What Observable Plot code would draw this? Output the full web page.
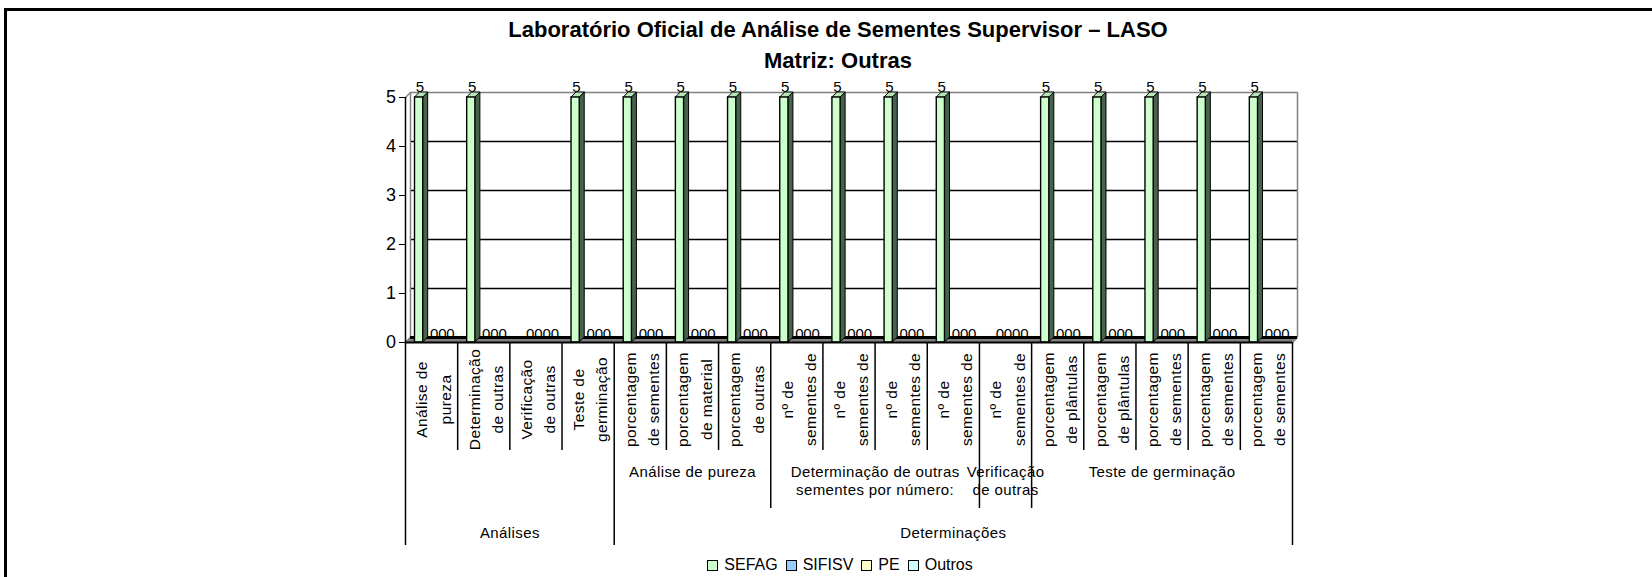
<!DOCTYPE html>
<html>
<head>
<meta charset="utf-8">
<script src="https://cdn.jsdelivr.net/npm/d3@7"></script>
<script src="https://cdn.jsdelivr.net/npm/@observablehq/plot@0.6"></script>
<style>
  body { margin: 0; background: #fff; font-family: "Liberation Sans", Arial, sans-serif; }
  #wrap { position: relative; width: 1652px; height: 577px; overflow: hidden; background: #fff; }
  #frame { position: absolute; left: 4px; top: 8px; width: 2000px; height: 1000px;
           border-left: 3px solid #000; border-top: 3px solid #000; pointer-events: none; }
  #chart { position: absolute; left: 0; top: 0; }
  .title { position: absolute; left: 338px; width: 1000px; text-align: center; font-weight: bold;
           font-size: 22px; line-height: 26px; color: #000; white-space: nowrap; }
  #legend { position: absolute; left: 540px; width: 600px; top: 556px; display: flex; justify-content: center;
            align-items: center; font-size: 16px; line-height: 18px; }
  #legend .item { display: flex; align-items: center; margin: 0 4px; }
  #legend .sw { width: 9px; height: 9px; border: 1px solid #000; margin-right: 6px; }
  svg text { letter-spacing: 0.4px; }
</style>
</head>
<body>
<div id="wrap">
  <div class="title" style="top:17px">Laboratório Oficial de Análise de Sementes Supervisor – LASO</div>
  <div class="title" style="top:48px">Matriz: Outras</div>
  <div id="chart"></div>
  <div id="legend"></div>
  <div id="frame"></div>
</div>
<script>
// ---------------- data ----------------
const categoryLabels = [
  "Análise de\npureza", "Determinação\nde outras", "Verificação\nde outras", "Teste de\ngerminação",
  "porcentagem\nde sementes", "porcentagem\nde material", "porcentagem\nde outras",
  "nº de\nsementes de", "nº de\nsementes de", "nº de\nsementes de", "nº de\nsementes de",
  "nº de\nsementes de",
  "porcentagem\nde plântulas", "porcentagem\nde plântulas",
  "porcentagem\nde sementes", "porcentagem\nde sementes", "porcentagem\nde sementes"
];
const level2Labels = [
  "", "", "", "",
  "Análise de pureza", "Análise de pureza", "Análise de pureza",
  "Determinação de outras\nsementes por número:", "Determinação de outras\nsementes por número:",
  "Determinação de outras\nsementes por número:", "Determinação de outras\nsementes por número:",
  "Verificação\nde outras",
  "Teste de germinação", "Teste de germinação", "Teste de germinação", "Teste de germinação", "Teste de germinação"
];
const level3Labels = [
  "Análises", "Análises", "Análises", "Análises",
  "Determinações", "Determinações", "Determinações", "Determinações", "Determinações", "Determinações",
  "Determinações", "Determinações", "Determinações", "Determinações", "Determinações", "Determinações", "Determinações"
];
const seriesNames = ["SEFAG", "SIFISV", "PE", "Outros"];
const sefag  = [5, 5, 0, 5, 5, 5, 5, 5, 5, 5, 5, 0, 5, 5, 5, 5, 5];
const sifisv = [0, 0, 0, 0, 0, 0, 0, 0, 0, 0, 0, 0, 0, 0, 0, 0, 0];
const pe     = [0, 0, 0, 0, 0, 0, 0, 0, 0, 0, 0, 0, 0, 0, 0, 0, 0];
const outros = [0, 0, 0, 0, 0, 0, 0, 0, 0, 0, 0, 0, 0, 0, 0, 0, 0];
const yTicks = [0, 1, 2, 3, 4, 5];
const seriesColors = ["#CCFFCC", "#99CCFF", "#FFFFCC", "#CCFFFF"];

// ---------------- layout ----------------
const W = 1652, H = 577;
const L = 405, R = 1292, T = 97, B = 342;
const nCat = categoryLabels.length;
const band = (R - L) / nCat;          // px per category
const ppu = (B - T) / 5;              // px per y unit
const d = 5 / band, dd = 5 / ppu;     // 3D depth in scale units
const slot0 = 9.5 / band, slotW = 8.2 / band;
const sepDepthPx = {1: 108, 2: 166, 3: 203};

// ---------------- derived tables ----------------
const seriesValues = [sefag, sifisv, pe, outros];
const bars = [];
categoryLabels.forEach((c, i) => seriesValues.forEach((vals, s) => bars.push({
  i, s, series: seriesNames[s], value: vals[i],
  x1: i + slot0 + s * slotW, x2: i + slot0 + (s + 1) * slotW
})));
const shown = bars.filter(b => b.value > 0);
const zeros = bars.filter(b => b.value === 0);

const sidePts = shown.flatMap((b, k) => [
  {id: k, x: b.x2, y1: 0, y2: b.value},
  {id: k, x: b.x2 + d, y1: dd, y2: b.value + dd}
]);
const topPts = shown.flatMap((b, k) => [
  {id: k, y: b.value, x1: b.x1, x2: b.x2},
  {id: k, y: b.value + dd, x1: b.x1 + d, x2: b.x2 + d}
]);

function runs(labels) {
  const out = [];
  let start = 0;
  for (let k = 1; k <= labels.length; k++) {
    if (k === labels.length || labels[k] !== labels[start]) {
      if (labels[start] !== "") out.push({label: labels[start], start, end: k});
      start = k;
    }
  }
  return out;
}
const groups2 = runs(level2Labels);
const groups3 = runs(level3Labels);

const boundaries = d3.range(nCat + 1).map(k => {
  let level = 1;
  if (k === 0 || k === nCat || level3Labels[k - 1] !== level3Labels[k]) level = 3;
  else if (level2Labels[k - 1] !== level2Labels[k]) level = 2;
  return {k, level};
});

const floor = [{y: 0, x1: 0, x2: nCat}, {y: dd, x1: d, x2: nCat + d}];
const edges = [
  {x1: 0, y1: 5, x2: d, y2: 5 + dd},
  {x1: 0, y1: 0, x2: d, y2: dd},
  {x1: nCat, y1: 0, x2: nCat + d, y2: dd}
];

const chart = Plot.plot({
  width: W, height: H,
  marginLeft: L, marginRight: W - R, marginTop: T, marginBottom: H - B,
  style: {fontFamily: "'Liberation Sans', Arial, sans-serif", background: "transparent", color: "#000"},
  x: {type: "linear", domain: [0, nCat], axis: null},
  y: {domain: [0, 5], axis: null},
  marks: [
    // back wall gridlines
    Plot.ruleY(yTicks.filter(t => t > 0 && t < 5), {y: t => t + dd, x1: d, x2: nCat + d, stroke: "#000", strokeWidth: 1.5}),
    Plot.ruleY([5], {y: t => t + dd, x1: d, x2: nCat + d, stroke: "#808080", strokeWidth: 1.5}),
    Plot.ruleX([d, nCat + d], {y1: dd, y2: 5 + dd, stroke: "#808080", strokeWidth: 1.5}),
    Plot.link(edges, {x1: "x1", y1: "y1", x2: "x2", y2: "y2", stroke: "#808080", strokeWidth: 1.5}),
    // floor
    Plot.areaX(floor, {y: "y", x1: "x1", x2: "x2", fill: "#808080", curve: "linear"}),
    Plot.ruleY([dd], {y: t => t, x1: d, x2: nCat + d, stroke: "#000", strokeWidth: 3}),
    // bars (3D)
    Plot.areaY(sidePts, {x: "x", y1: "y1", y2: "y2", z: "id", fill: "#44634A", stroke: "#000", strokeWidth: 1, curve: "linear"}),
    Plot.areaX(topPts, {y: "y", x1: "x1", x2: "x2", z: "id", fill: "#B8E6B8", stroke: "#000", strokeWidth: 1, curve: "linear"}),
    Plot.rect(shown, {x1: "x1", x2: "x2", y1: 0, y2: "value", fill: b => seriesColors[b.s], stroke: "#000", strokeWidth: 1.4}),
    // value labels
    Plot.text(shown, {x: b => (b.x1 + b.x2) / 2, y: "value", text: b => String(b.value), dx: 1, dy: -6, lineAnchor: "bottom", fontSize: 15}),
    Plot.text(zeros, {x: b => (b.x1 + b.x2) / 2, y: 0, text: b => String(b.value), dx: 7, dy: -4, lineAnchor: "bottom", fontSize: 15}),
    // y axis
    Plot.ruleX([0], {y1: 0, y2: 5, stroke: "#000", strokeWidth: 1.5}),
    Plot.axisY({ticks: yTicks, tickSize: 6, tickPadding: 3, fontSize: 18, label: null, tickFormat: d3.format("d")}),
    // front floor edge / x axis
    Plot.ruleY([0], {x1: 0, x2: nCat, stroke: "#000", strokeWidth: 2}),
    // hierarchical category axis
    Plot.ruleX(boundaries, {x: "k", y1: 0, y2: b => -sepDepthPx[b.level] / ppu, stroke: "#000", strokeWidth: 1.5}),
    Plot.text(categoryLabels.map((label, i) => ({i, label})), {
      x: c => c.i + 0.5, text: "label", frameAnchor: "bottom", dy: 57, rotate: -90,
      textAnchor: "middle", lineAnchor: "middle", lineHeight: 1.5, fontSize: 15.5
    }),
    Plot.text(groups2, {
      x: g => (g.start + g.end) / 2, text: "label", frameAnchor: "bottom", dy: 122,
      textAnchor: "middle", lineAnchor: "top", lineHeight: 1.17, fontSize: 15
    }),
    Plot.text(groups3, {
      x: g => (g.start + g.end) / 2, text: "label", frameAnchor: "bottom", dy: 191,
      textAnchor: "middle", lineAnchor: "middle", fontSize: 15
    })
  ]
});
document.getElementById("chart").append(chart);

// legend
const legend = document.getElementById("legend");
seriesNames.forEach((name, s) => {
  const item = document.createElement("div");
  item.className = "item";
  const sw = document.createElement("div");
  sw.className = "sw";
  sw.style.background = seriesColors[s];
  const t = document.createElement("span");
  t.textContent = name;
  item.append(sw, t);
  legend.append(item);
});
</script>
</body>
</html>
